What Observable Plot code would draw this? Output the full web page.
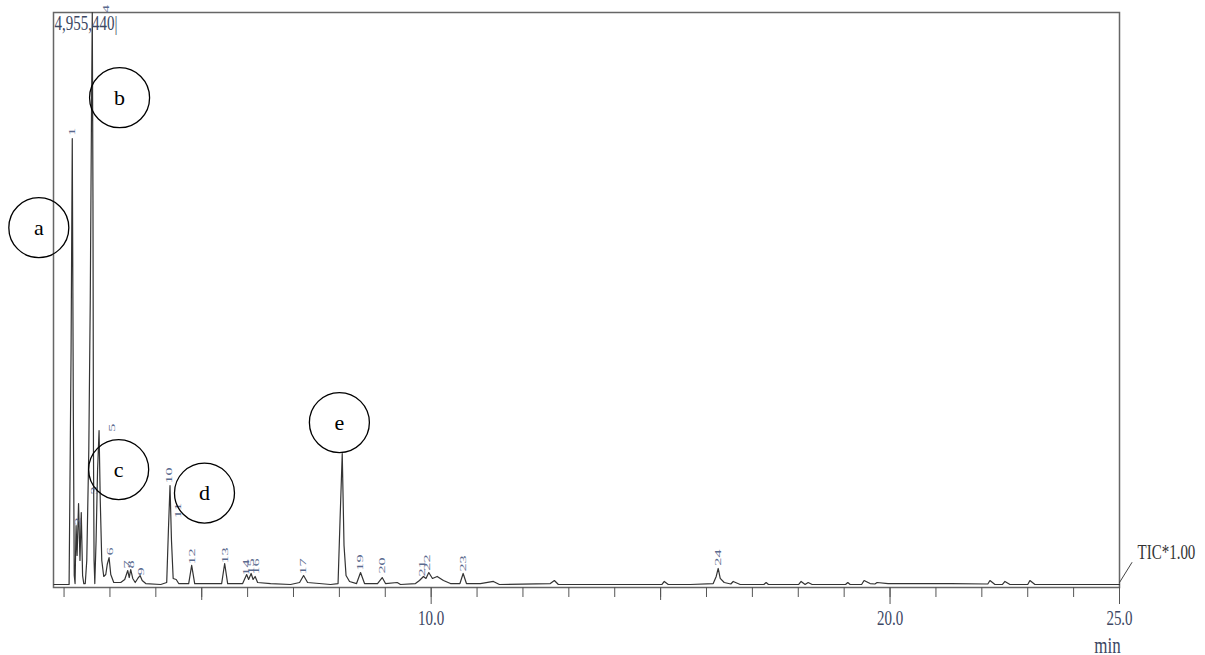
<!DOCTYPE html>
<html><head><meta charset="utf-8">
<script src="https://cdn.jsdelivr.net/npm/d3@7"></script>
<script src="https://cdn.jsdelivr.net/npm/@observablehq/plot@0.6"></script>
<style>
html,body{margin:0;padding:0;background:#fff;overflow:hidden}
#chart svg{display:block}
</style></head><body><div id="chart"></div>
<script>
// Retention time (min) and total ion current of the traced chromatogram vertices
const traceTime = [1.78, 2.06, 2.11, 2.153, 2.179, 2.201, 2.222, 2.240, 2.262, 2.284, 2.316, 2.347, 2.375, 2.404, 2.430, 2.462, 2.495, 2.539, 2.571, 2.597, 2.615, 2.630, 2.641, 2.654, 2.670, 2.698, 2.730, 2.763, 2.789, 2.822, 2.865, 2.909, 2.941, 2.981, 3.018, 3.083, 3.235, 3.322, 3.388, 3.420, 3.453, 3.497, 3.551, 3.606, 3.656, 3.703, 3.780, 4.106, 4.237, 4.274, 4.309, 4.341, 4.378, 4.444, 4.498, 4.716, 4.781, 4.847, 5.434, 5.500, 5.565, 5.892, 5.979, 6.022, 6.077, 6.120, 6.164, 6.218, 6.502, 6.937, 7.133, 7.220, 7.307, 7.808, 7.971, 8.014, 8.062, 8.101, 8.145, 8.221, 8.374, 8.461, 8.548, 8.831, 8.933, 9.005, 9.260, 9.332, 9.658, 9.745, 9.832, 9.887, 9.948, 10.028, 10.131, 10.268, 10.420, 10.627, 10.697, 10.769, 11.073, 11.356, 11.487, 12.597, 12.685, 12.772, 14.122, 15.03, 15.080, 15.167, 15.646, 16.146, 16.212, 16.255, 16.299, 16.386, 16.53, 16.582, 16.734, 17.25, 17.300, 17.35, 17.605, 18.01, 18.062, 18.149, 18.215, 18.302, 19.03, 19.079, 19.13, 19.38, 19.434, 19.565, 19.67, 19.717, 19.957, 20.653, 21.328, 22.13, 22.177, 22.286, 22.45, 22.504, 22.613, 23.00, 23.048, 23.157, 25.0];
const traceIntensity = [26000, 26000, 26000, 2041000, 3868000, 1611000, 103000, 34000, 534000, 276000, 724000, 233000, 646000, 103000, 34000, 34000, 233000, 1180000, 2472000, 4023000, 4955440, 3334000, 1180000, 233000, 34000, 405000, 1008000, 1352000, 749000, 233000, 95000, 112000, 198000, 258000, 112000, 43000, 43000, 69000, 146000, 86000, 155000, 78000, 43000, 78000, 103000, 60000, 34000, 26000, 43000, 491000, 879000, 405000, 78000, 69000, 34000, 34000, 190000, 34000, 34000, 207000, 34000, 34000, 112000, 69000, 121000, 69000, 95000, 43000, 34000, 26000, 43000, 103000, 43000, 26000, 34000, 577000, 1154000, 362000, 103000, 52000, 34000, 129000, 34000, 34000, 86000, 34000, 43000, 26000, 34000, 60000, 95000, 78000, 129000, 78000, 95000, 60000, 34000, 34000, 121000, 34000, 34000, 52000, 26000, 34000, 60000, 26000, 26000, 26000, 52000, 26000, 26000, 34000, 95000, 164000, 78000, 43000, 30000, 52000, 26000, 26000, 43000, 26000, 26000, 26000, 52000, 26000, 43000, 26000, 26000, 43000, 26000, 26000, 60000, 34000, 30000, 43000, 34000, 34000, 34000, 30000, 60000, 26000, 26000, 52000, 26000, 26000, 60000, 26000, 26000];

// Peak number labels and where they sit
const peakNumbers = ["1", "2", "3", "4", "5", "6", "7", "8", "9", "10", "11", "12", "13", "14", "15", "16", "17", "19", "20", "21", "22", "23", "24"];
const peakLabelTime = [2.179, 2.299, 2.648, 2.909, 3.039, 2.996, 3.366, 3.453, 3.671, 4.287, 4.476, 4.796, 5.500, 5.957, 6.066, 6.185, 7.213, 8.461, 8.933, 9.811, 9.919, 10.697, 16.262];
const peakLabelIntensity = [3928000, 569000, 836000, 4987000, 1378000, 310000, 198000, 198000, 138000, 965000, 663000, 267000, 276000, 172000, 181000, 181000, 181000, 215000, 190000, 164000, 215000, 207000, 258000];

// Circled annotations
const annotationLetters = ["a", "b", "c", "d", "e"];
const annotationTime = [1.45, 3.21, 3.19, 5.06, 8.00];
const annotationIntensity = [3101000, 4221000, 1016000, 814000, 1421000];

// Scale and axis
const fullScale = 4955440;
const timeStart = 1.77, timeEnd = 25.0;
const minorTicks = [2, 3, 4, 5, 6, 7, 8, 9, 10, 11, 12, 13, 14, 15, 16, 17, 18, 19, 20, 21, 22, 23, 24, 25];
const midTicks = [5, 15];
const majorTicks = [10, 20, 25];
const ticLabel = "TIC*1.00";
const ticLeaderTime = [25.0, 25.27];
const ticLeaderIntensity = [43000, 215000];
const unitLabel = "min";

const trace = traceTime.map((t, i) => ({t, v: traceIntensity[i]}));
const peaks = peakNumbers.map((n, i) => ({n, t: peakLabelTime[i], v: peakLabelIntensity[i]}));
const notes = annotationLetters.map((l, i) => ({l, t: annotationTime[i], v: annotationIntensity[i]}));
const leader = ticLeaderTime.map((t, i) => ({t, v: ticLeaderIntensity[i]}));

const serif = "'Liberation Serif', 'Times New Roman', serif";
const labelColor = "#3c4763";

const chart = Plot.plot({
  width: 1205, height: 655,
  marginLeft: 53, marginRight: 86, marginTop: 12, marginBottom: 68,
  x: {domain: [timeStart, timeEnd], label: null},
  y: {domain: [0, fullScale], axis: null, label: null},
  style: {fontFamily: serif, background: "white", overflow: "visible"},
  marks: [
    Plot.frame({stroke: "#666", strokeWidth: 1.5}),
    Plot.axisX(minorTicks, {tickSize: 10, tickFormat: () => "", stroke: "#555", label: null}),
    Plot.axisX(midTicks, {tickSize: 13, tickFormat: () => "", stroke: "#555", label: null}),
    Plot.axisX(majorTicks, {tickSize: 17, tickPadding: 8, tickFormat: d => d.toFixed(1), fontSize: 15, stroke: "#555", fill: labelColor, label: null}),
    Plot.line(trace, {x: "t", y: "v", stroke: "#333", strokeWidth: 1.2}),
    Plot.line(leader, {x: "t", y: "v", stroke: "#444", strokeWidth: 1}),
    Plot.text(peaks, {x: "t", y: "v", text: "n", rotate: -90, fontSize: 9, fill: "#5a6a8e"}),
    Plot.text([fullScale], {frameAnchor: "top-left", text: d => d3.format(",")(d) + "|", textAnchor: "start", lineAnchor: "middle", dx: 1, dy: 11, fontSize: 15, fill: labelColor}),
    Plot.text([ticLabel], {frameAnchor: "bottom-right", textAnchor: "start", lineAnchor: "middle", dx: 18, dy: -35, fontSize: 15, fill: "#333"}),
    Plot.text([unitLabel], {frameAnchor: "bottom-right", textAnchor: "middle", lineAnchor: "middle", dx: -12, dy: 58, fontSize: 17, fill: labelColor}),
    Plot.dot(notes, {x: "t", y: "v", r: 30, stroke: "#000", strokeWidth: 1.3, fill: "none"}),
    Plot.text(notes, {x: "t", y: "v", text: "l", fontSize: 22, fill: "#000"})
  ]
});
document.getElementById("chart").appendChild(chart);

// mimic the vertically stretched lettering of the original print
const stretchY = {"4,955,440|": 1.4, "10.0": 1.45, "20.0": 1.45, "25.0": 1.35, "TIC*1.00": 1.4, "min": 1.3};
chart.querySelectorAll("text").forEach(el => {
  const s = el.textContent;
  const tr = el.getAttribute("transform") || "";
  if (stretchY[s]) {
    const b = el.getBBox();
    const cx = b.x + b.width / 2, cy = b.y + b.height / 2;
    el.setAttribute("transform", `${tr} translate(${cx},${cy}) scale(1,${stretchY[s]}) translate(${-cx},${-cy})`);
  } else if (tr.includes("rotate(-90)")) {
    el.setAttribute("transform", tr + " scale(1.8,1)");
  }
});
</script></body></html>
